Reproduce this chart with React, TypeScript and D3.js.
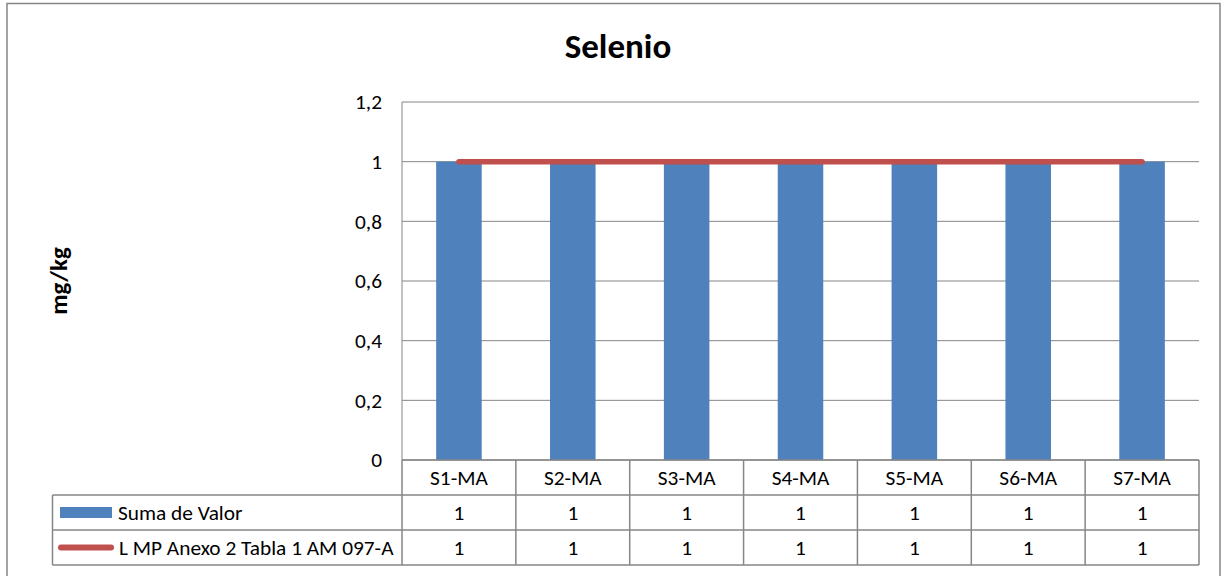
import React from "react";
import * as d3 from "d3";

const categories = ["S1-MA", "S2-MA", "S3-MA", "S4-MA", "S5-MA", "S6-MA", "S7-MA"];
const sumaValues = [1, 1, 1, 1, 1, 1, 1];
const limitValues = [1, 1, 1, 1, 1, 1, 1];
const yTicks = [0, 0.2, 0.4, 0.6, 0.8, 1, 1.2];
const seriesNames = ["Suma de Valor", "L MP Anexo 2 Tabla 1 AM 097-A"];
const title = "Selenio";
const yTitle = "mg/kg";

const FONT = "Carlito, Calibri, Lato, 'Open Sans', sans-serif";
const BLUE = "#4F81BD";
const RED = "#C0504D";
const GRID = "#868686";
const FS = 21.33;

export default function App() {
  const left = 402, right = 1199, top = 102, bottom = 460;
  const tableLeft = 52.5;
  const rowH = 35;
  const x = d3.scaleBand().domain(categories).range([left, right]).paddingInner(0.6).paddingOuter(0.3);
  const col = d3.scaleBand().domain(categories).range([left, right]);
  const y = d3.scaleLinear().domain([0, 1.2]).range([bottom, top]);
  const fmt = (v: number) => String(+v.toFixed(1)).replace(".", ",");
  const line = d3.line<number>()
    .x((_, i) => (col(categories[i]) as number) + col.bandwidth() / 2)
    .y((d) => y(d));
  const rows = [sumaValues, limitValues];

  return (
    <svg width={1226} height={576} style={{ position: "absolute", left: 0, top: 0 }} fontFamily={FONT}>
      <rect x={0} y={0} width={1226} height={576} fill="#fff" />
      <rect x={7} y={3.5} width={1213} height={580} fill="none" stroke={GRID} strokeWidth={1.5} />
      <text x={618} y={58} textAnchor="middle" fontSize={35} fontWeight="bold">{title}</text>
      <text transform={`translate(67,${281}) rotate(-90)`} textAnchor="middle" fontSize={25} fontWeight="bold">{yTitle}</text>
      {yTicks.map((t) => (
        <g key={t}>
          <line x1={left} x2={right} y1={y(t)} y2={y(t)} stroke={GRID} strokeWidth={1} />
          <text x={382} y={y(t)} dy="0.35em" textAnchor="end" fontSize={FS}>{fmt(t)}</text>
        </g>
      ))}
      <line x1={left} x2={left} y1={top} y2={bottom} stroke={GRID} />
      {categories.map((c, i) => (
        <rect key={c} x={x(c)} y={y(sumaValues[i])} width={x.bandwidth()} height={bottom - y(sumaValues[i])} fill={BLUE} />
      ))}
      <path d={line(limitValues) || ""} fill="none" stroke={RED} strokeWidth={5.5} strokeLinecap="round" />
      {/* data table */}
      <g stroke={GRID} strokeWidth={1.5}>
        <line x1={left} x2={right} y1={bottom} y2={bottom} />
        {[1, 2, 3].map((r) => (
          <line key={r} x1={tableLeft} x2={right} y1={bottom + r * rowH} y2={bottom + r * rowH} />
        ))}
        <line x1={tableLeft} x2={tableLeft} y1={bottom + rowH} y2={bottom + 3 * rowH} />
        {categories.map((c) => (
          <line key={c} x1={col(c)} x2={col(c)} y1={bottom} y2={bottom + 3 * rowH} />
        ))}
        <line x1={right} x2={right} y1={bottom} y2={bottom + 3 * rowH} />
      </g>
      {categories.map((c) => (
        <text key={c} x={(col(c) as number) + col.bandwidth() / 2} y={bottom + rowH / 2} dy="0.35em" textAnchor="middle" fontSize={FS}>{c}</text>
      ))}
      {rows.map((vals, r) => (
        <g key={r}>
          {vals.map((v, i) => (
            <text key={i} x={(col(categories[i]) as number) + col.bandwidth() / 2} y={bottom + rowH * (r + 1.5)} dy="0.35em" textAnchor="middle" fontSize={FS}>{fmt(v)}</text>
          ))}
        </g>
      ))}
      <rect x={60} y={bottom + rowH * 1.5 - 5.5} width={52} height={11} fill={BLUE} />
      <text x={118} y={bottom + rowH * 1.5} dy="0.35em" fontSize={FS}>{seriesNames[0]}</text>
      <line x1={61} x2={111} y1={bottom + rowH * 2.5} y2={bottom + rowH * 2.5} stroke={RED} strokeWidth={6} strokeLinecap="round" />
      <text x={119} y={bottom + rowH * 2.5} dy="0.35em" fontSize={FS}>{seriesNames[1]}</text>
    </svg>
  );
}
